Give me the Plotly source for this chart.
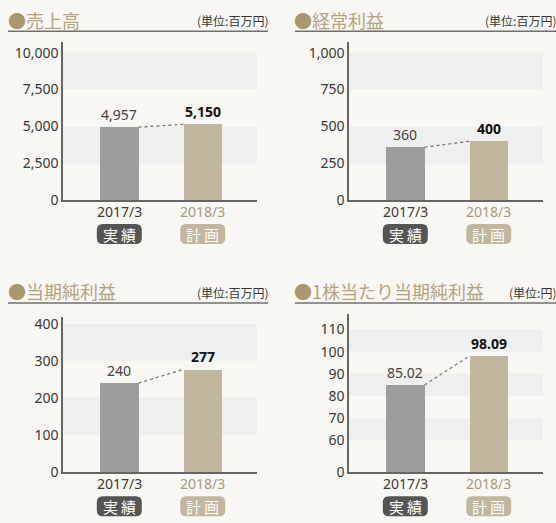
import plotly.graph_objects as go

# ---------------- data ----------------
categories = ["2017/3", "2018/3"]
badges = ["実績", "計画"]

sales = [4957, 5150]
ordinary_profit = [360, 400]
net_income = [240, 277]
eps = [85.02, 98.09]

sales_ticks = [0, 2500, 5000, 7500, 10000]
ordinary_ticks = [0, 250, 500, 750, 1000]
net_ticks = [0, 100, 200, 300, 400]
eps_ticks = [0, 60, 70, 80, 90, 100, 110]

sales_bands = [(2500, 5000), (7500, 10000)]
ordinary_bands = [(250, 500), (750, 1000)]
net_bands = [(100, 200), (300, 400)]
eps_bands = [(60, 70), (80, 90), (100, 110)]

titles = ["売上高", "経常利益", "当期純利益", "1株当たり当期純利益"]
units = ["(単位:百万円)", "(単位:百万円)", "(単位:百万円)", "(単位:円)"]

# ---------------- styling ----------------
W, H = 556, 523
BG = "#f8f7f3"
BAND = "#efefef"
GREY_BAR = "#9c9e9d"
BEIGE_BAR = "#c1b69e"
GOLD = "#b3a47e"
BULLET = "#a8986f"
AXIS = "#666666"
FONT = "Noto Sans CJK JP"
NUM_FONT = "Noto Sans"
TEXT = "#3a3a3a"
BAR_W = 0.46


def xp(px):
    return px / W


def yp(py):
    return 1 - py / H


def fmt_int(v):
    return f"{v:,}"


def fmt_eps(v):
    return f"{v:.2f}"


# panel geometry (pixels)
panels = [
    dict(vals=sales, ticks=sales_ticks, ticktext=[fmt_int(t) for t in sales_ticks],
         bands=sales_bands, fmt=fmt_int, x0=63, x1=257, ytop=40, ybot=202,
         rng=[0, 10714], title_x=6, title_y=17, unit_x=270, rule=(8, 268, 29),
         cat_y=213, badge_y=236.5, broken=None),
    dict(vals=ordinary_profit, ticks=ordinary_ticks, ticktext=[fmt_int(t) for t in ordinary_ticks],
         bands=ordinary_bands, fmt=fmt_int, x0=349, x1=543, ytop=40, ybot=202,
         rng=[0, 1071.4], title_x=292, title_y=17, unit_x=558, rule=(295, 556, 29),
         cat_y=213, badge_y=236.5, broken=None),
    dict(vals=net_income, ticks=net_ticks, ticktext=[fmt_int(t) for t in net_ticks],
         bands=net_bands, fmt=fmt_int, x0=63, x1=257, ytop=321, ybot=480,
         rng=[0, 419], title_x=6, title_y=295, unit_x=270, rule=(8, 268, 307),
         cat_y=492, badge_y=515, broken=None),
    dict(vals=eps, ticks=eps_ticks, ticktext=[str(t) for t in eps_ticks],
         bands=eps_bands, fmt=fmt_eps, x0=349, x1=543, ytop=318, ybot=480,
         rng=[45.8, 117.1], title_x=292, title_y=295, unit_x=558, rule=(295, 556, 307),
         cat_y=492, badge_y=515, broken=45.8),
]

fig = go.Figure()
shapes = []
annotations = []
layout_axes = {}

for i, p in enumerate(panels):
    n = i + 1
    xa = "x" if n == 1 else f"x{n}"
    ya = "y" if n == 1 else f"y{n}"
    xkey = "xaxis" if n == 1 else f"xaxis{n}"
    ykey = "yaxis" if n == 1 else f"yaxis{n}"

    tickvals = list(p["ticks"])
    if p["broken"] is not None:
        tickvals[0] = p["broken"]

    layout_axes[xkey] = dict(
        domain=[xp(p["x0"]), xp(p["x1"])], anchor=ya, range=[-0.675, 1.65],
        showline=True, linecolor=AXIS, linewidth=1.5, showgrid=False, zeroline=False,
        showticklabels=False, ticks="", fixedrange=True,
    )
    layout_axes[ykey] = dict(
        domain=[yp(p["ybot"]), yp(p["ytop"])], anchor=xa, range=p["rng"],
        showline=True, linecolor=AXIS, linewidth=1.5, showgrid=False, zeroline=False,
        tickvals=tickvals, ticktext=p["ticktext"], ticks="",
        tickfont=dict(family=NUM_FONT, size=14, color=TEXT), fixedrange=True,
    )

    # bars
    fig.add_trace(go.Bar(
        x=[0, 1], y=p["vals"], width=BAR_W, marker=dict(color=[GREY_BAR, BEIGE_BAR], line=dict(width=0)),
        xaxis=xa, yaxis=ya, hoverinfo="skip", showlegend=False,
    ))
    # dotted connector
    fig.add_trace(go.Scatter(
        x=[BAR_W / 2, 1 - BAR_W / 2], y=p["vals"], mode="lines",
        line=dict(color="#777777", width=1.3, dash="dot"),
        xaxis=xa, yaxis=ya, hoverinfo="skip", showlegend=False,
    ))

    # alternating bands
    for lo, hi in p["bands"]:
        shapes.append(dict(type="rect", xref=f"{xa} domain", yref=ya, x0=0, x1=1, y0=lo, y1=hi,
                           fillcolor=BAND, line=dict(width=0), layer="below"))

    for j, v in enumerate(p["vals"]):
        # value labels
        annotations.append(dict(
            x=j, y=v, xref=xa, yref=ya, text=(p["fmt"](v) if j == 0 else f"<b>{p['fmt'](v)}</b>"),
            showarrow=False, yanchor="bottom", yshift=1,
            font=dict(family=NUM_FONT, size=14, color="#444444" if j == 0 else "#111111"),
        ))
        # category labels
        annotations.append(dict(
            x=j, y=yp(p["cat_y"]), xref=xa, yref="paper", text=categories[j], showarrow=False,
            yanchor="middle", font=dict(family=NUM_FONT, size=14, color=TEXT if j == 0 else "#a89a78"),
        ))
        # badges (rounded rectangles)
        r = 6
        w2, h2 = 22.5, 10
        path = (f"M {-w2 + r},{-h2} L {w2 - r},{-h2} Q {w2},{-h2} {w2},{-h2 + r} "
                f"L {w2},{h2 - r} Q {w2},{h2} {w2 - r},{h2} L {-w2 + r},{h2} "
                f"Q {-w2},{h2} {-w2},{h2 - r} L {-w2},{-h2 + r} Q {-w2},{-h2} {-w2 + r},{-h2} Z")
        shapes.append(dict(type="path", xref=xa, yref="paper", xsizemode="pixel", ysizemode="pixel",
                           xanchor=j, yanchor=yp(p["badge_y"]), path=path,
                           fillcolor="#555555" if j == 0 else BEIGE_BAR, line=dict(width=0)))
        annotations.append(dict(
            x=j, y=yp(p["badge_y"]), xref=xa, yref="paper", text="\u2009".join(badges[j]),
            showarrow=False, yanchor="middle",
            font=dict(family=FONT, size=15, color="white"),
        ))

    # title
    annotations.append(dict(
        x=xp(p["title_x"]), y=yp(p["title_y"]), xref="paper", yref="paper", xanchor="left", yanchor="middle",
        text=f"<span style='color:{BULLET}'>●</span>{titles[i]}", showarrow=False,
        font=dict(family=FONT, size=18, color=GOLD),
    ))
    annotations.append(dict(
        x=xp(p["unit_x"]), y=yp(p["title_y"] + 1), xref="paper", yref="paper", xanchor="right", yanchor="middle",
        text=units[i], showarrow=False, font=dict(family=FONT, size=12, color=TEXT),
    ))
    x_a, x_b, y_r = p["rule"]
    shapes.append(dict(type="line", xref="paper", yref="paper", x0=xp(x_a), x1=xp(x_b), y0=yp(y_r), y1=yp(y_r),
                       line=dict(color="#6f6f6f", width=1.5)))

fig.update_layout(
    width=W, height=H, margin=dict(l=0, r=0, t=0, b=0),
    paper_bgcolor=BG, plot_bgcolor=BG, showlegend=False,
    shapes=shapes, annotations=annotations, bargap=0,
    font=dict(family=FONT),
    **layout_axes,
)

fig.write_html(
    "out.html",
    config={"displayModeBar": False},
    post_script="document.body.style.margin='0';document.body.style.overflow='hidden';",
)
